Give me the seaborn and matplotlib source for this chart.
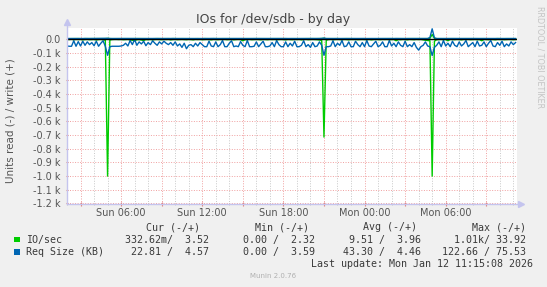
import numpy as np
import pandas as pd
import matplotlib
matplotlib.use("Agg")
import matplotlib.pyplot as plt
import seaborn as sns
from matplotlib.patches import Rectangle
from matplotlib.lines import Line2D

# ---------------- data ----------------
START_HOUR = 2.0          # Sun 02:00 (hours since Sun 00:00)
STEP_HOURS = 1.0 / 6.0    # 10-minute samples

# IO/sec read (drawn negative)
io_read = [
    2, 3, 1, 4, 2, 3, 2, 5, 3, 2, 4, 3, 2, 6, 3, 2, 4, 8, 1000, 6,
    3, 2, 2, 3, 2, 4, 3, 2, 5, 8, 12, 4, 3, 6, 10, 3, 4, 2, 5, 3,
    2, 3, 4, 2, 3, 2, 5, 3, 2, 4, 3, 2, 3, 4, 2, 3, 5, 2, 3, 2,
    4, 3, 2, 3, 5, 2, 3, 4, 2, 3, 2, 4, 3, 2, 5, 3, 2, 3, 12, 4,
    3, 2, 4, 3, 2, 3, 5, 2, 3, 4, 2, 3, 2, 4, 3, 2, 3, 5, 2, 3,
    4, 2, 3, 2, 5, 3, 2, 4, 3, 2, 3, 4, 6, 10, 715, 8, 3, 2, 4, 3,
    2, 3, 4, 2, 3, 5, 2, 3, 2, 4, 3, 2, 3, 4, 2, 5, 3, 2, 3, 4,
    2, 3, 2, 4, 3, 2, 12, 3, 4, 2, 3, 5, 2, 3, 4, 2, 3, 2, 5, 8,
    10, 12, 1000, 15, 4, 3, 2, 4, 3, 12, 2, 3, 4, 2, 3, 5, 2, 3, 2, 4,
    3, 2, 4, 3, 12, 2, 3, 4, 2, 3, 5, 2, 3, 2, 4, 3, 2, 3, 4, 3,
]

# IO/sec write (drawn positive)
io_write = [
    3.6, 3.8, 4.0, 3.5, 3.9, 4.2, 3.7, 3.4, 4.1, 3.8, 3.6, 4.0, 3.9, 3.5, 3.7, 4.3, 3.8, 4.0, 5.2, 4.1,
    3.7, 3.9, 3.5, 4.0, 3.8, 3.6, 4.2, 3.9, 3.7, 4.0, 3.5, 3.8, 4.1, 3.6, 3.9, 3.7, 4.0, 3.8, 3.5, 3.9,
    4.1, 3.6, 3.8, 4.0, 3.7, 3.9, 3.5, 4.2, 3.8, 3.6, 4.0, 3.9, 3.7, 3.5, 4.1, 3.8, 3.6, 4.0, 3.9, 3.7,
    3.5, 4.2, 3.8, 3.6, 4.0, 3.9, 3.7, 4.1, 3.5, 3.8, 4.0, 3.6, 3.9, 3.7, 4.2, 3.8, 3.5, 4.0, 3.9, 3.6,
    3.8, 4.1, 3.7, 3.5, 3.9, 4.0, 3.6, 3.8, 4.2, 3.7, 3.5, 3.9, 4.0, 3.8, 3.6, 4.1, 3.7, 3.9, 3.5, 4.0,
    3.8, 3.6, 4.2, 3.9, 3.7, 4.0, 3.5, 3.8, 4.1, 3.6, 3.9, 3.7, 4.0, 4.6, 5.8, 3.9, 3.7, 4.0, 3.6, 3.8,
    4.1, 3.5, 3.9, 3.7, 4.0, 3.8, 3.6, 4.2, 3.9, 3.5, 3.8, 4.0, 3.7, 3.6, 4.1, 3.9, 3.8, 3.5, 4.0, 3.7,
    3.9, 3.6, 4.2, 3.8, 3.5, 4.0, 3.7, 3.9, 3.6, 4.1, 3.8, 3.5, 4.0, 3.9, 3.7, 3.6, 4.2, 3.8, 3.5, 4.0,
    3.9, 5.5, 33.9, 6.2, 3.8, 3.6, 4.0, 3.7, 3.9, 3.5, 4.1, 3.8, 3.6, 4.0, 3.7, 3.9, 3.5, 4.2, 3.8, 3.6,
    4.0, 3.7, 3.9, 3.5, 4.1, 3.8, 3.6, 4.0, 3.9, 3.7, 3.5, 4.2, 3.8, 3.6, 4.0, 3.9, 3.7, 3.5, 3.6, 3.5,
]

# Req Size (KB) read (drawn negative)
size_read = [
    50, 52, 52, 12, 52, 18, 50, 15, 45, 20, 40, 25, 48, 15, 52, 30, 12, 52,
    118,
    55, 52, 52, 52, 52, 50,
    45, 30, 50, 10, 40, 2, 45, 20, 35, 15, 48, 25, 40, 12, 30, 45,
    20, 35, 15, 30, 40, 25, 45, 20, 50, 35, 60, 30, 70, 45, 40, 55, 30, 50, 25, 40,
    55, 55, 15, 50, 55, 20, 55, 40, 10, 55, 55, 30, 12, 55, 50, 55, 18, 45, 55, 10,
    55, 55, 52, 20, 55, 35, 15, 55, 55, 50, 25, 55, 10, 40, 55, 55, 20, 55, 30, 50,
    15, 55, 55, 45, 12, 55, 40, 60, 25, 55, 50, 20, 45,
    118,
    55, 55, 50, 12, 55, 30, 45, 10, 55, 50, 20, 55, 55, 15, 40, 55, 25, 55, 10, 50,
    55, 35, 15, 55, 45, 20, 55, 55, 10, 50, 30, 55, 20, 45, 55, 15, 55, 40, 55, 25,
    60, 80, 55, 45, 20, 50, 55,
    120,
    60, 45, 20, 55, 10, 50, 30, 55, 15, 45, 55, 20, 50, 35, 10, 55, 40, 25, 55, 15,
    50, 45, 20, 55, 30, 10, 50, 55, 25, 45, 15, 55, 35, 50, 20, 40, 25,
]

# Req Size (KB) write (drawn positive)
size_write = [
    4.4, 4.6, 4.3, 4.7, 4.5, 4.2, 4.6, 4.4, 4.8, 4.3, 4.5, 4.6, 4.4, 4.2, 4.7, 4.5, 4.3, 4.6, 6.0, 4.4,
    4.5, 4.3, 4.7, 4.4, 4.6, 4.2, 4.5, 4.8, 4.3, 4.6, 4.4, 4.5, 4.7, 4.3, 4.6, 4.4, 4.2, 4.5, 4.7, 4.4,
    4.6, 4.3, 4.5, 4.4, 4.7, 4.2, 4.6, 4.5, 4.3, 4.8, 4.4, 4.6, 4.5, 4.3, 4.7, 4.4, 4.2, 4.6, 4.5, 4.3,
    4.7, 4.4, 4.6, 4.5, 4.3, 4.8, 4.4, 4.2, 4.6, 4.5, 4.3, 4.7, 4.4, 4.6, 4.5, 4.2, 4.8, 4.4, 4.6, 4.3,
    4.5, 4.7, 4.4, 4.3, 4.6, 4.5, 4.2, 4.7, 4.4, 4.6, 4.3, 4.5, 4.8, 4.4, 4.6, 4.5, 4.3, 4.7, 4.2, 4.5,
    4.6, 4.4, 4.3, 4.7, 4.5, 4.6, 4.2, 4.4, 4.8, 4.5, 4.3, 4.6, 4.4, 5.0, 7.5, 4.5, 4.3, 4.6, 4.4, 4.7,
    4.5, 4.2, 4.6, 4.4, 4.7, 4.3, 4.5, 4.6, 4.4, 4.8, 4.3, 4.5, 4.6, 4.2, 4.7, 4.4, 4.5, 4.3, 4.6, 4.5,
    4.4, 4.7, 4.3, 4.5, 4.6, 4.2, 4.8, 4.4, 4.5, 4.3, 4.6, 4.7, 4.4, 4.5, 4.2, 4.6, 4.3, 4.8, 4.5, 4.4,
    4.6, 12.0, 75.5, 9.0, 4.5, 4.3, 4.7, 4.4, 4.6, 4.5, 4.2, 4.6, 4.4, 4.8, 4.3, 4.5, 4.6, 4.4, 4.7, 4.3,
    4.5, 4.6, 4.2, 4.4, 4.7, 4.5, 4.3, 4.6, 4.4, 4.8, 4.5, 4.3, 4.6, 4.4, 4.2, 4.7, 4.5, 4.6, 4.4, 4.6,
]

x_tick_hours = [6, 12, 18, 24, 30]
x_tick_labels = ["Sun 06:00", "Sun 12:00", "Sun 18:00", "Mon 00:00", "Mon 06:00"]
y_tick_values = [0, -100, -200, -300, -400, -500, -600, -700, -800, -900, -1000, -1100, -1200]
y_tick_labels = ["0.0", "-0.1 k", "-0.2 k", "-0.3 k", "-0.4 k", "-0.5 k", "-0.6 k",
                 "-0.7 k", "-0.8 k", "-0.9 k", "-1.0 k", "-1.1 k", "-1.2 k"]

legend_names = ["IO/sec", "Req Size (KB)"]
legend_colors = ["#00CC00", "#0066B3"]
legend_headers = ["Cur (-/+)", "Min (-/+)", "Avg (-/+)", "Max (-/+)"]
legend_values = [
    ["332.62m/  3.52", "0.00 /  2.32", "9.51 /  3.96", "1.01k/ 33.92"],
    ["22.81 /  4.57", "0.00 /  3.59", "43.30 /  4.46", "122.66 / 75.53"],
]
title_text = "IOs for /dev/sdb - by day"
ylabel_text = "Units read (-) / write (+)"
last_update_text = "Last update: Mon Jan 12 11:15:08 2026"
munin_text = "Munin 2.0.76"
rrd_text = "RRDTOOL / TOBI OETIKER"

assert len(io_read) == len(io_write) == len(size_read) == len(size_write) == 200

# ---------------- figure ----------------
W, H = 547, 287
BG = "#F0F0F0"
fig = plt.figure(figsize=(W / 100, H / 100), dpi=100, facecolor=BG)


def fx(px):
    return px / W


def fy(py):
    return 1 - py / H


L, R, T, B = 67, 516.7, 27.5, 203.5
ax = fig.add_axes([fx(L), fy(B), fx(R) - fx(L), fy(T) - fy(B)])
ax.set_facecolor("white")

hours = START_HOUR + STEP_HOURS * np.arange(len(io_read))
df = pd.DataFrame({
    "hour": hours,
    "io_read": -np.asarray(io_read, float),
    "io_write": np.asarray(io_write, float),
    "size_read": -np.asarray(size_read, float),
    "size_write": np.asarray(size_write, float),
})

kw = dict(data=df, x="hour", ax=ax, lw=1.0, estimator=None, sort=False, legend=False)
sns.lineplot(y="io_read", color=legend_colors[0], zorder=3, **kw)
sns.lineplot(y="io_write", color=legend_colors[0], zorder=3, **kw)
sns.lineplot(y="size_read", color=legend_colors[1], zorder=4, **kw)
sns.lineplot(y="size_write", color=legend_colors[1], zorder=4, **kw)
ax.axhline(0, color="black", lw=1.0, zorder=6)
ax.set_xlabel("")
ax.set_ylabel("")

ax.set_xlim(2.0, 35.25)
ax.set_ylim(-1200, 85)

# grids
major_x = [h for h in range(3, 36, 3)]
minor_x = [h for h in range(2, 36) if h % 3 != 0]
ax.set_xticks(major_x)
ax.set_xticklabels([x_tick_labels[x_tick_hours.index(h)] if h in x_tick_hours else "" for h in major_x])
ax.set_xticks(minor_x, minor=True)
ax.set_yticks(y_tick_values)
ax.set_yticklabels(y_tick_labels)

dot = (0, (1, 1.6))
for h in minor_x:
    ax.axvline(h, color="#C8C8C8", lw=0.7, ls=dot, zorder=1)
for h in major_x:
    ax.axvline(h, color="#F0A0A0", lw=0.7, ls=dot, zorder=1)
for v in y_tick_values[1:]:
    ax.axhline(v, color="#F0A0A0", lw=0.7, ls=dot, zorder=1)

ax.tick_params(axis="x", which="major", length=2.5, width=0.8, color="#E08080",
               labelsize=7, labelcolor="#555555", pad=2, direction="inout")
ax.tick_params(axis="x", which="minor", length=1.5, width=0.6, color="#C0C0C0", direction="inout")
ax.tick_params(axis="y", which="major", length=2, width=0.8, color="#E08080",
               labelsize=7, labelcolor="#555555", pad=3.5, direction="inout")

for s in ["top", "right", "left", "bottom"]:
    ax.spines[s].set_visible(False)

axis_col = "#C4C4EE"
fig.add_artist(Line2D([fx(L), fx(521)], [fy(B), fy(B)], color=axis_col, lw=1.0))
fig.add_artist(Line2D([fx(L), fx(L)], [fy(B), fy(22)], color=axis_col, lw=1.0))
fig.add_artist(Line2D([fx(521)], [fy(B)], marker=">", markersize=4, color=axis_col, lw=0))
fig.add_artist(Line2D([fx(L)], [fy(22)], marker="^", markersize=4, color=axis_col, lw=0))

# texts
fig.text(0.5, fy(19.5), title_text, ha="center", va="center", fontsize=9, color="#444444")
fig.text(fx(11), fy(121), ylabel_text, rotation=90, ha="center", va="center",
         fontsize=7.5, color="#555555")
fig.text(fx(540), fy(6), rrd_text, rotation=270, ha="center", va="top",
         fontsize=5.8, color="#C4C4C4")

mono = "DejaVu Sans Mono"
TXT = "#3A3A3A"
header_right = [200, 309, 417, 526]
value_right = [209, 315, 421, 526]
row_y = [239.5, 251.8]
for hx, htxt in zip(header_right, legend_headers):
    fig.text(fx(hx), fy(227.5), htxt, ha="right", va="center", family=mono, fontsize=7.2, color=TXT)
for r, (name, col, vals) in enumerate(zip(legend_names, legend_colors, legend_values)):
    y = row_y[r]
    fig.add_artist(Rectangle((fx(14), fy(y + 2.8)), fx(6), 5.5 / H, facecolor=col, edgecolor="none"))
    fig.text(fx(26), fy(y), name, ha="left", va="center", family=mono, fontsize=7.2, color=TXT)
    for vx, vtxt in zip(value_right, vals):
        fig.text(fx(vx), fy(y), vtxt, ha="right", va="center", family=mono, fontsize=7.2, color=TXT)
fig.text(fx(533), fy(264), last_update_text, ha="right", va="center", family=mono,
         fontsize=7.2, color=TXT)
fig.text(fx(273), fy(276.5), munin_text, ha="center", va="center", fontsize=5, color="#B0B0B0")

fig.savefig("out.png", dpi=100, facecolor=BG)
